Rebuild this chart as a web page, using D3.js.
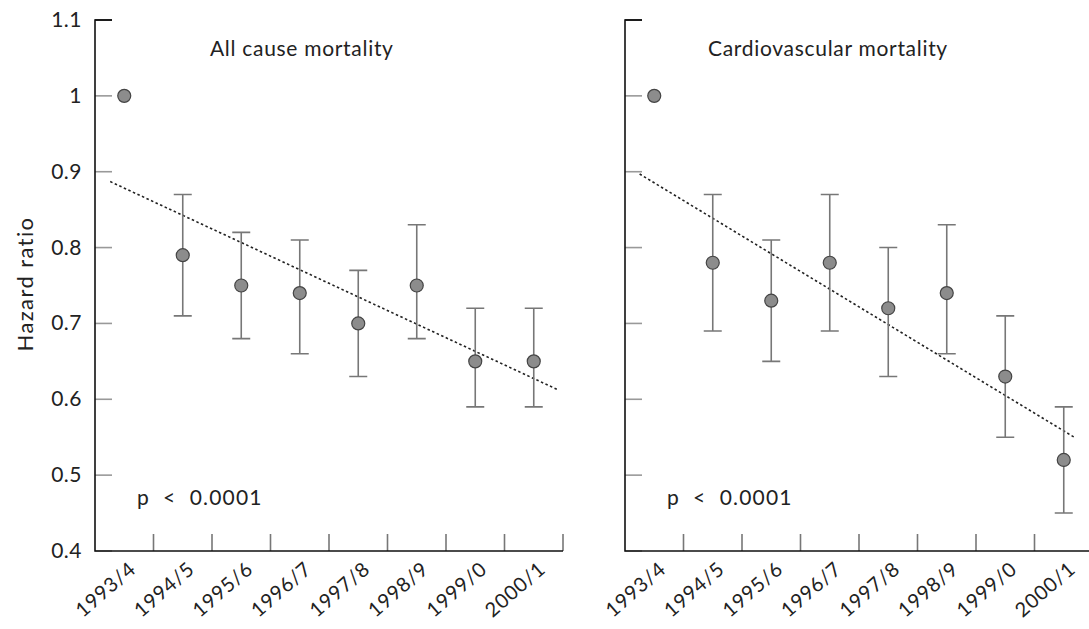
<html>
<head>
<script src="https://d3js.org/d3.v7.min.js"></script>
<style>
  body { margin: 0; background: white; font-family: "Lato", sans-serif; }
  text { fill: #222; }
</style>
</head>
<body>
<script>
var width = 1089, height = 629;

var years = ["1993/4","1994/5","1995/6","1996/7","1997/8","1998/9","1999/0","2000/1"];
var yTicks = [0.4, 0.5, 0.6, 0.7, 0.8, 0.9, 1, 1.1];

// all cause mortality
var allHR    = [1.00, 0.79, 0.75, 0.74, 0.70, 0.75, 0.65, 0.65];
var allLow   = [null, 0.71, 0.68, 0.66, 0.63, 0.68, 0.59, 0.59];
var allHigh  = [null, 0.87, 0.82, 0.81, 0.77, 0.83, 0.72, 0.72];
var allTrend = [[-0.24, 0.887], [7.4, 0.613]];

// cardiovascular mortality
var cvHR    = [1.00, 0.78, 0.73, 0.78, 0.72, 0.74, 0.63, 0.52];
var cvLow   = [null, 0.69, 0.65, 0.69, 0.63, 0.66, 0.55, 0.45];
var cvHigh  = [null, 0.87, 0.81, 0.87, 0.80, 0.83, 0.71, 0.59];
var cvTrend = [[-0.25, 0.897], [7.2, 0.549]];

var svg = d3.select("body").append("svg")
  .attr("width", width).attr("height", height);

var y = d3.scaleLinear().domain([0.4, 1.1]).range([551, 20]);

function panel(x0, title, titleX, hr, lo, hi, trend, showLabels) {
  var g = svg.append("g");
  var x = d3.scaleLinear().domain([-0.5, 7.5]).range([x0, x0 + 468]);

  // y ticks (inward)
  g.selectAll(".ytick").data(yTicks).enter().append("line")
    .attr("x1", x0).attr("x2", x0 + 17)
    .attr("y1", d => y(d)).attr("y2", d => y(d))
    .attr("stroke", d => d == 1.1 ? "#111" : "#999").attr("stroke-width", 1.6);

  if (showLabels) {
    g.selectAll(".ylab").data(yTicks).enter().append("text")
      .attr("x", x0 - 13).attr("y", d => y(d) + 7)
      .attr("text-anchor", "end").attr("font-size", 21)
      .attr("letter-spacing", 0.5)
      .text(d => d3.format("")(d));
  }

  // x ticks (upward, at band edges)
  g.selectAll(".xtick").data(d3.range(8)).enter().append("line")
    .attr("x1", d => x(d + 0.5)).attr("x2", d => x(d + 0.5))
    .attr("y1", 551).attr("y2", 534)
    .attr("stroke", "#777").attr("stroke-width", 1.6);

  // axes
  g.append("path")
    .attr("d", "M" + (x0 + 17) + ",20H" + x0 + "V551H" + (x0 + 468))
    .attr("fill", "none").attr("stroke", "#111").attr("stroke-width", 1.6);

  // x labels
  g.selectAll(".xlab").data(years).enter().append("text")
    .attr("transform", (d, i) => "translate(" + (x(i) + 13) + ",571) rotate(-41)")
    .attr("text-anchor", "end").attr("font-size", 20)
    .attr("letter-spacing", 0.8)
    .text(d => d);

  // trend line
  g.append("line")
    .attr("x1", x(trend[0][0])).attr("y1", y(trend[0][1]))
    .attr("x2", x(trend[1][0])).attr("y2", y(trend[1][1]))
    .attr("stroke", "#222").attr("stroke-width", 1.6)
    .attr("stroke-dasharray", "2.5,2.5");

  // error bars
  var idx = d3.range(8).filter(i => lo[i] != null);
  g.selectAll(".eb").data(idx).enter().append("path")
    .attr("d", i => "M" + (x(i) - 9) + "," + y(hi[i]) + "H" + (x(i) + 9) +
      "M" + x(i) + "," + y(hi[i]) + "V" + y(lo[i]) +
      "M" + (x(i) - 9) + "," + y(lo[i]) + "H" + (x(i) + 9))
    .attr("fill", "none").attr("stroke", "#777").attr("stroke-width", 1.6);

  // points
  g.selectAll(".pt").data(hr).enter().append("circle")
    .attr("cx", (d, i) => x(i)).attr("cy", d => y(d)).attr("r", 6.5)
    .attr("fill", "#8c8c8c").attr("stroke", "#444").attr("stroke-width", 1.2);

  g.append("text").attr("x", titleX).attr("y", 56)
    .attr("font-size", 21).attr("letter-spacing", 0.7).text(title);
  g.append("text").attr("x", x0 + 42).attr("y", 505)
    .attr("font-size", 21).attr("letter-spacing", 1.2)
    .attr("xml:space", "preserve").style("white-space", "pre")
    .text("p  <  0.0001");
}

panel(95, "All cause mortality", 210, allHR, allLow, allHigh, allTrend, true);
panel(625, "Cardiovascular mortality", 708, cvHR, cvLow, cvHigh, cvTrend, false);

svg.append("text")
  .attr("transform", "translate(33,284) rotate(-90)")
  .attr("text-anchor", "middle").attr("font-size", 22)
  .attr("letter-spacing", 1.4)
  .text("Hazard ratio");
</script>
</body>
</html>
